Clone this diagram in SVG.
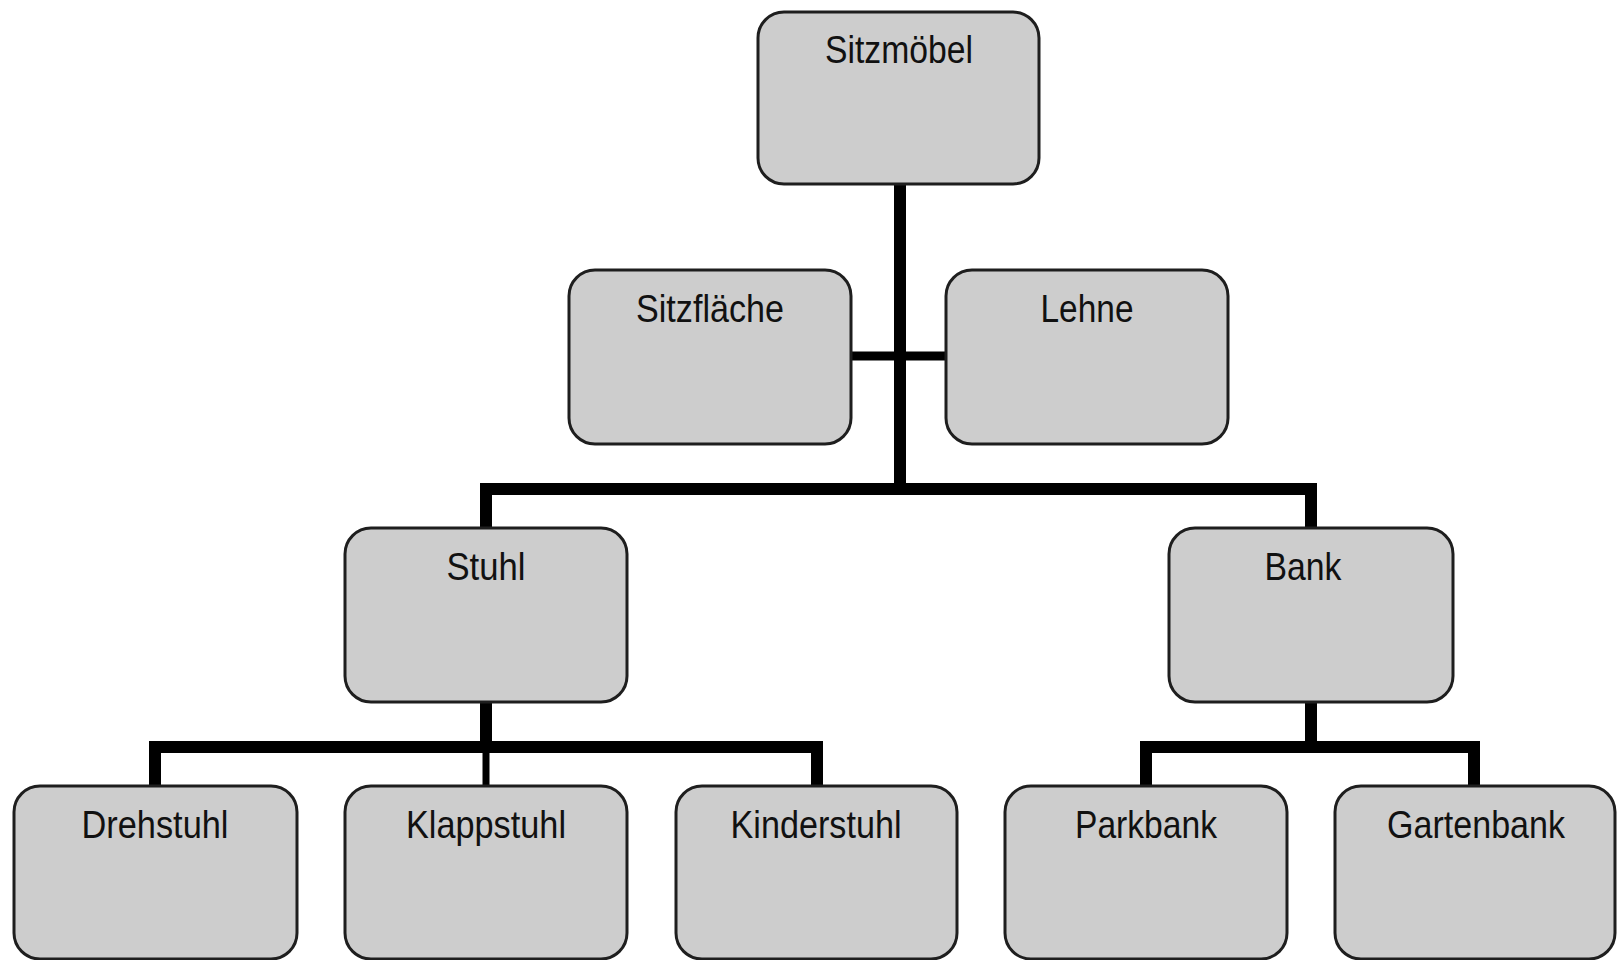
<svg xmlns="http://www.w3.org/2000/svg" width="1618" height="960" viewBox="0 0 1618 960">
<style>
.box{fill:#cdcdcd;stroke:#1e1e1e;stroke-width:3}
.lbl{font-family:"Liberation Sans",Arial,sans-serif;font-size:39px;fill:#111;text-anchor:middle}
.con{fill:none;stroke:#000;stroke-linejoin:miter;stroke-linecap:butt}
</style>
<rect width="1618" height="960" fill="#fff"/>
<g id="connectors">
<path class="con" stroke-width="12" d="M900 184 V489"/>
<path class="con" stroke-width="9" d="M851 356 H946"/>
<path class="con" stroke-width="12" d="M486 528 V489 H1311 V528"/>
<path class="con" stroke-width="12" d="M486 702 V747"/>
<path class="con" stroke-width="12" d="M155 786 V747 H817 V786"/>
<path class="con" stroke-width="7" d="M486 747 V786"/>
<path class="con" stroke-width="12" d="M1311 702 V747"/>
<path class="con" stroke-width="12" d="M1146 786 V747 H1474 V786"/>
</g>
<g id="sitzmoebel"><rect class="box" x="758" y="12" width="281" height="172" rx="26"/><text class="lbl" x="899" y="63" textLength="148" lengthAdjust="spacingAndGlyphs">Sitzmöbel</text></g>
<g id="sitzflaeche"><rect class="box" x="569" y="270" width="282" height="174" rx="26"/><text class="lbl" x="710" y="322" textLength="148" lengthAdjust="spacingAndGlyphs">Sitzfläche</text></g>
<g id="lehne"><rect class="box" x="946" y="270" width="282" height="174" rx="26"/><text class="lbl" x="1087" y="322" textLength="93" lengthAdjust="spacingAndGlyphs">Lehne</text></g>
<g id="stuhl"><rect class="box" x="345" y="528" width="282" height="174" rx="26"/><text class="lbl" x="486" y="580" textLength="79" lengthAdjust="spacingAndGlyphs">Stuhl</text></g>
<g id="bank"><rect class="box" x="1169" y="528" width="284" height="174" rx="26"/><text class="lbl" x="1303" y="580" textLength="77" lengthAdjust="spacingAndGlyphs">Bank</text></g>
<g id="drehstuhl"><rect class="box" x="14" y="786" width="283" height="173" rx="26"/><text class="lbl" x="155" y="838" textLength="147" lengthAdjust="spacingAndGlyphs">Drehstuhl</text></g>
<g id="klappstuhl"><rect class="box" x="345" y="786" width="282" height="173" rx="26"/><text class="lbl" x="486" y="838" textLength="160" lengthAdjust="spacingAndGlyphs">Klappstuhl</text></g>
<g id="kinderstuhl"><rect class="box" x="676" y="786" width="281" height="173" rx="26"/><text class="lbl" x="816" y="838" textLength="171" lengthAdjust="spacingAndGlyphs">Kinderstuhl</text></g>
<g id="parkbank"><rect class="box" x="1005" y="786" width="282" height="173" rx="26"/><text class="lbl" x="1146" y="838" textLength="142" lengthAdjust="spacingAndGlyphs">Parkbank</text></g>
<g id="gartenbank"><rect class="box" x="1335" y="786" width="280" height="173" rx="26"/><text class="lbl" x="1476" y="838" textLength="178" lengthAdjust="spacingAndGlyphs">Gartenbank</text></g>
</svg>
